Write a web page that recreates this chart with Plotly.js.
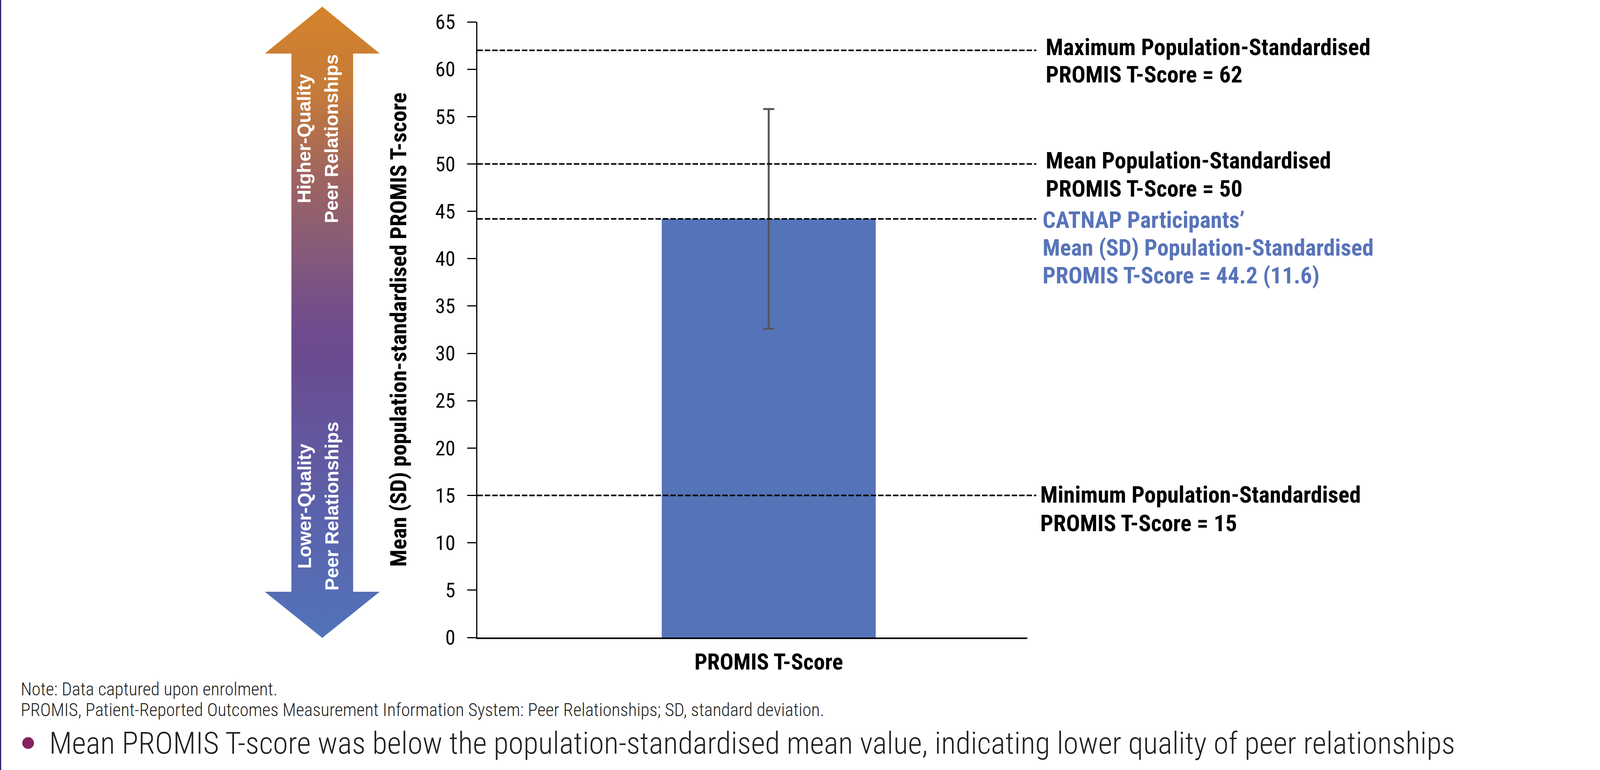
<!DOCTYPE html>
<html>
<head>
<meta charset="utf-8">
<script src="https://cdn.plot.ly/plotly-3.0.1.min.js"></script>
<style>html,body{margin:0;padding:0;background:#fff;}#chart{width:4160px;height:1970px;}</style>
</head>
<body>
<div id="chart"></div>
<script>
// ---------- data ----------
const categories = ['PROMIS T-Score'];
const meanValues = [44.2];
const sdValues = [11.6];
const yTickValues = [0, 5, 10, 15, 20, 25, 30, 35, 40, 45, 50, 55, 60, 65];
const refLineValues = [62, 50, 44.2, 15];
const refLineLabels = [
  ['Maximum Population-Standardised', 'PROMIS T-Score = 62'],
  ['Mean Population-Standardised', 'PROMIS T-Score = 50'],
  ['CATNAP Participants\u2019', 'Mean (SD) Population-Standardised', 'PROMIS T-Score = 44.2 (11.6)'],
  ['Minimum Population-Standardised', 'PROMIS T-Score = 15']
];
const yAxisTitle = 'Mean (SD) population-standardised PROMIS T-score';
const arrowTopLines = ['Higher-Quality', 'Peer Relationships'];
const arrowBottomLines = ['Lower-Quality', 'Peer Relationships'];
const noteLines = [
  'Note: Data captured upon enrolment.',
  'PROMIS, Patient-Reported Outcomes Measurement Information System: Peer Relationships; SD, standard deviation.'
];
const bulletText = 'Mean PROMIS T-score was below the population-standardised mean value, indicating lower quality of peer relationships';

// ---------- layout geometry (pixels) ----------
const W = 4160, H = 1970;
const L = 1222, R = 2630, T = 56, B = 1631;
const px = x => (x - L) / (R - L);
const py = y => (B - y) / (B - T);

const NARROW = 'Roboto Condensed, Open Sans Condensed, DejaVu Sans Condensed, sans-serif';
const SANS = 'Liberation Sans, Arial, Helvetica, sans-serif';
const BLUE = '#5573B8';
const TXTBLUE = '#5874B9';

// label styling per reference line
const refStyle = [
  {x: 2675, caps: [120, 190], color: '#000'},
  {x: 2675, caps: [411, 483], color: '#000'},
  {x: 2667, caps: [562, 633, 705], color: TXTBLUE},
  {x: 2661, caps: [1265, 1338], color: '#000'}
];

const shapes = [];
const annotations = [];

// dashed reference lines
refLineValues.forEach(v => {
  shapes.push({type: 'line', xref: 'paper', yref: 'y', x0: 0, x1: px(2653), y0: v, y1: v,
    line: {color: '#000', width: 4, dash: '14px,5px'}, layer: 'above'});
});
refLineLabels.forEach((lines, i) => {
  const st = refStyle[i];
  lines.forEach((t, j) => {
    annotations.push({xref: 'paper', yref: 'paper', x: px(st.x), y: py(st.caps[j]),
      xanchor: 'left', yanchor: 'middle', showarrow: false, text: t,
      font: {family: NARROW, size: 59, color: st.color, weight: 'bold'}});
  });
});

// y axis title
annotations.push({xref: 'paper', yref: 'paper', x: px(1020), y: py(844), textangle: -90,
  xanchor: 'center', yanchor: 'middle', showarrow: false, text: yAxisTitle,
  font: {family: NARROW, size: 58, color: '#000', weight: 'bold'}});

// arrow texts
const arrowX = [779, 849];
arrowTopLines.forEach((t, j) => annotations.push({xref: 'paper', yref: 'paper', x: px(arrowX[j]), y: py(355),
  textangle: -90, xanchor: 'center', yanchor: 'middle', showarrow: false, text: '<b>' + t + '</b>',
  font: {family: SANS, size: 48, color: '#fff'}}));
arrowBottomLines.forEach((t, j) => annotations.push({xref: 'paper', yref: 'paper', x: px(arrowX[j]), y: py(1295),
  textangle: -90, xanchor: 'center', yanchor: 'middle', showarrow: false, text: '<b>' + t + '</b>',
  font: {family: SANS, size: 48, color: '#fff'}}));

// footnotes
const noteCaps = [1763, 1816];
noteLines.forEach((t, j) => annotations.push({xref: 'paper', yref: 'paper', x: px(51), y: py(noteCaps[j]),
  xanchor: 'left', yanchor: 'middle', showarrow: false, text: t,
  font: {family: NARROW, size: 46, color: '#231f20', weight: 300}}));
annotations.push({xref: 'paper', yref: 'paper', x: px(124), y: py(1901),
  xanchor: 'left', yanchor: 'middle', showarrow: false, text: bulletText,
  font: {family: NARROW, size: 78, color: '#231f20', weight: 300}});

// bullet dot
shapes.push({type: 'circle', xref: 'paper', yref: 'paper', x0: px(57), x1: px(87), y0: py(1916), y1: py(1886),
  fillcolor: '#87215F', line: {width: 0}});
// left border
shapes.push({type: 'rect', xref: 'paper', yref: 'paper', x0: px(0), x1: px(3), y0: py(H), y1: py(0),
  fillcolor: '#2B2A6E', line: {width: 0}});

// gradient double arrow (decoration) as svg image
const aw = 294, ah = 1615;
const svg = `<svg xmlns="http://www.w3.org/2000/svg" width="${aw}" height="${ah}" viewBox="0 0 ${aw} ${ah}" preserveAspectRatio="none">
<defs><linearGradient id="g" x1="0" y1="0" x2="0" y2="1">
<stop offset="0" stop-color="#D4842A"/>
<stop offset="0.14" stop-color="#C47A3A"/>
<stop offset="0.27" stop-color="#9E6460"/>
<stop offset="0.39" stop-color="#855A7A"/>
<stop offset="0.50" stop-color="#704C8C"/>
<stop offset="0.56" stop-color="#6A4B8F"/>
<stop offset="0.80" stop-color="#5C62AC"/>
<stop offset="1" stop-color="#5173B9"/>
</linearGradient></defs>
<polygon fill="url(#g)" points="147,0 294,120 226,120 226,1497 294,1497 147,1615 0,1497 68,1497 68,120 0,120"/>
</svg>`;
const images = [{source: 'data:image/svg+xml;charset=utf-8,' + encodeURIComponent(svg),
  xref: 'paper', yref: 'paper', x: px(678), y: py(17), sizex: (972 - 678) / (R - L), sizey: (1632 - 17) / (B - T),
  xanchor: 'left', yanchor: 'top', sizing: 'stretch', layer: 'above'}];

const trace = {
  type: 'bar', x: categories, y: meanValues, width: 0.389,
  marker: {color: BLUE, line: {width: 0}},
  error_y: {type: 'data', array: sdValues, visible: true, color: '#555555', thickness: 5, width: 14},
  hoverinfo: 'skip'
};

const layout = {
  width: W, height: H,
  margin: {l: L, r: W - R, t: T, b: H - B, pad: 0},
  paper_bgcolor: '#fff', plot_bgcolor: '#fff',
  showlegend: false,
  font: {family: NARROW, color: '#000'},
  xaxis: {type: 'category', range: [-0.5298, 0.4702], showgrid: false, zeroline: false,
    showline: true, linecolor: '#000', linewidth: 4, ticks: '', fixedrange: true,
    tickfont: {family: NARROW, size: 58, color: '#000', weight: 'bold'}, ticklabelstandoff: 8},
  yaxis: {range: [0, 65], tickvals: yTickValues, showgrid: false, zeroline: false,
    showline: true, linecolor: '#000', linewidth: 3, ticks: 'outside', ticklen: 23, tickwidth: 3, tickcolor: '#000',
    tickfont: {family: NARROW, size: 52, color: '#000'}, ticklabelstandoff: 20, fixedrange: true},
  shapes: shapes, annotations: annotations, images: images
};

Plotly.newPlot('chart', [trace], layout, {displayModeBar: false, staticPlot: true});
</script>
</body>
</html>
